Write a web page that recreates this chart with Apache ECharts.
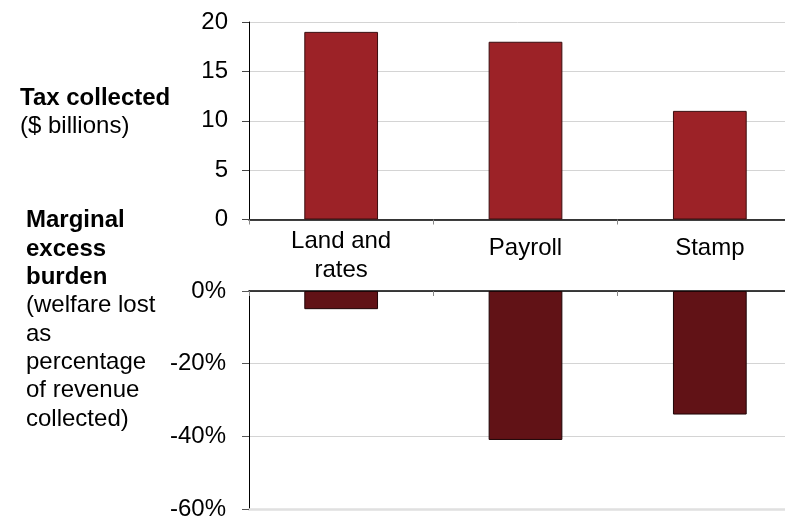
<!DOCTYPE html>
<html>
<head>
<meta charset="utf-8">
<script src="https://cdn.jsdelivr.net/npm/echarts@6/dist/echarts.min.js"></script>
<style>
  html, body { margin: 0; padding: 0; background: #fff; }
  #chart { width: 785px; height: 517px; }
</style>
</head>
<body>
<div id="chart"></div>
<script>
// Tax types compared
const categories = ['Land and\nrates', 'Payroll', 'Stamp'];
// Tax collected, $ billions
const taxCollected = [19, 18, 11];
// Marginal excess burden, % of revenue collected (shown as negative)
const excessBurden = [-5, -41, -34];
// Axis tick settings
const taxTicks = { min: 0, max: 20, interval: 5 };
const burdenTicks = { min: -60, max: 0, interval: 20 };

const FONT = '"Liberation Sans", Arial, sans-serif';
const FS = 24;

const chart = echarts.init(document.getElementById('chart'), null, { renderer: 'canvas' });

function catLabel(v) {
  if (v.indexOf('\n') >= 0) return v;
  return '{s|' + v + '}';
}

const leftText = [
  { t: 'Tax collected', y: 96, bold: true, x: 20 },
  { t: '($ billions)', y: 124, bold: false, x: 20 },
  { t: 'Marginal', y: 218, bold: true, x: 26 },
  { t: 'excess', y: 247, bold: true, x: 26 },
  { t: 'burden', y: 275, bold: true, x: 26 },
  { t: '(welfare lost', y: 303, bold: false, x: 26 },
  { t: 'as', y: 332, bold: false, x: 26 },
  { t: 'percentage', y: 360, bold: false, x: 26 },
  { t: 'of revenue', y: 388, bold: false, x: 26 },
  { t: 'collected)', y: 417, bold: false, x: 26 }
];

// plot area runs past the right edge of the canvas
const plotLeft = 249;
const plotWidth = 553;

chart.setOption({
  animation: false,
  backgroundColor: '#ffffff',
  textStyle: { fontFamily: FONT },
  grid: [
    { left: plotLeft, width: plotWidth, top: 22, height: 197.5, containLabel: false, outerBoundsMode: 'none' },
    { left: plotLeft, width: plotWidth, top: 291, height: 218, containLabel: false, outerBoundsMode: 'none' }
  ],
  xAxis: [
    {
      type: 'category', gridIndex: 0, data: categories,
      axisLine: { show: true, lineStyle: { color: '#000', width: 1.5 } },
      axisTick: { show: true, length: 5, lineStyle: { color: '#888' } },
      axisLabel: {
        show: true, color: '#000', fontSize: FS, fontFamily: FONT,
        lineHeight: 29, margin: 7, interval: 0,
        formatter: catLabel,
        rich: { s: { fontSize: FS, fontFamily: FONT, color: '#000', lineHeight: 29, padding: [14, 0, 0, 0] } }
      },
      splitLine: { show: false }
    },
    {
      type: 'category', gridIndex: 1, data: categories, position: 'top',
      axisLine: { show: true, onZero: true, lineStyle: { color: '#000', width: 1.5 } },
      axisTick: { show: true, inside: true, length: 5, lineStyle: { color: '#888' } },
      axisLabel: { show: false },
      splitLine: { show: false }
    },
    {
      // pale base line along the bottom of the lower panel
      type: 'category', gridIndex: 1, data: categories, position: 'bottom',
      axisLine: { show: true, onZero: false, lineStyle: { color: '#e0e0e0', width: 2.5 } },
      axisTick: { show: false },
      axisLabel: { show: false },
      splitLine: { show: false }
    }
  ],
  yAxis: [
    {
      type: 'value', gridIndex: 0,
      min: taxTicks.min, max: taxTicks.max, interval: taxTicks.interval,
      axisLine: { show: true, lineStyle: { color: '#000', width: 1 } },
      axisTick: { show: true, length: 7, lineStyle: { color: '#444' } },
      axisLabel: { color: '#000', fontSize: FS, fontFamily: FONT, margin: 21 },
      splitLine: { show: true, lineStyle: { color: '#d4d4d4', width: 1 } }
    },
    {
      type: 'value', gridIndex: 1,
      min: burdenTicks.min, max: burdenTicks.max, interval: burdenTicks.interval,
      axisLine: { show: true, lineStyle: { color: '#000', width: 1 } },
      axisTick: { show: true, length: 7, lineStyle: { color: '#555' } },
      axisLabel: { color: '#000', fontSize: FS, fontFamily: FONT, margin: 23, formatter: '{value}%' },
      splitLine: { show: true, lineStyle: { color: '#d4d4d4', width: 1 } }
    }
  ],
  series: [
    {
      type: 'bar', xAxisIndex: 0, yAxisIndex: 0, data: taxCollected,
      barWidth: '40%',
      itemStyle: { color: '#9c2227', borderColor: '#3a0d0f', borderWidth: 1 }
    },
    {
      type: 'bar', xAxisIndex: 1, yAxisIndex: 1, data: excessBurden,
      barWidth: '40%',
      itemStyle: { color: '#611216', borderColor: '#1e0406', borderWidth: 1 }
    }
  ],
  graphic: leftText.map(function (l) {
    return {
      type: 'text', left: l.x, top: l.y - 10,
      style: {
        text: l.t, fill: '#000',
        font: (l.bold ? 'bold ' : '') + FS + 'px ' + FONT
      }
    };
  })
});
</script>
</body>
</html>
